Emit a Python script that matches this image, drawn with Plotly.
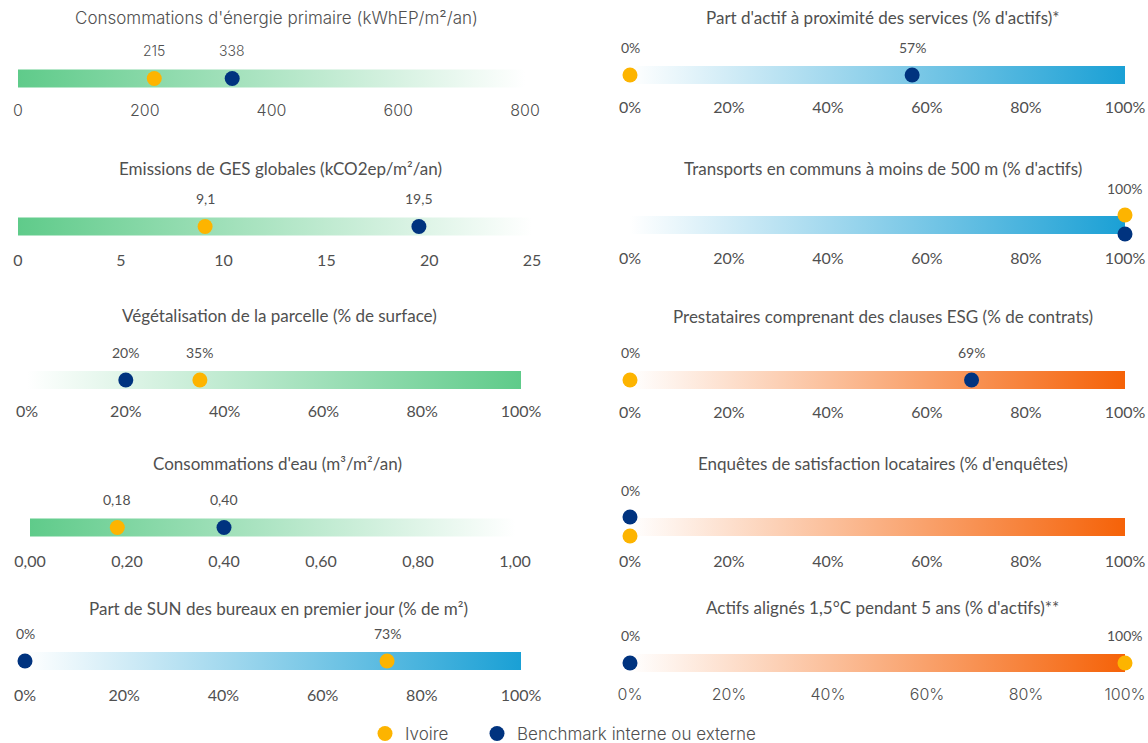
import plotly.graph_objects as go

W, H = 1148, 743

# ---------------- data ----------------
titles = [
    "Consommations d'énergie primaire (kWhEP/m²/an)",
    "Emissions de GES globales (kCO2ep/m²/an)",
    "Végétalisation de la parcelle (% de surface)",
    "Consommations d'eau (m³/m²/an)",
    "Part de SUN des bureaux en premier jour (% de m²)",
    "Part d'actif à proximité des services (% d'actifs)*",
    "Transports en communs à moins de 500 m (% d'actifs)",
    "Prestataires comprenant des clauses ESG (% de contrats)",
    "Enquêtes de satisfaction locataires (% d'enquêtes)",
    "Actifs alignés 1,5°C pendant 5 ans (% d'actifs)**",
]
series_names = ["Ivoire", "Benchmark interne ou externe"]
ivoire = [215, 9.1, 35, 0.18, 73, 0, 100, 0, 0, 100]
benchmark = [338, 19.5, 20, 0.40, 0, 57, 100, 69, 0, 0]
axis_max = [800, 25, 100, 1.0, 100, 100, 100, 100, 100, 100]

pct_vals = [0, 20, 40, 60, 80, 100]
pct_text = ["0%", "20%", "40%", "60%", "80%", "100%"]
tick_vals = [
    [0, 200, 400, 600, 800],
    [0, 5, 10, 15, 20, 25],
    pct_vals,
    [0, 0.2, 0.4, 0.6, 0.8, 1.0],
    pct_vals, pct_vals, pct_vals, pct_vals, pct_vals, pct_vals,
]
tick_text = [
    ["0", "200", "400", "600", "800"],
    ["0", "5", "10", "15", "20", "25"],
    pct_text,
    ["0,00", "0,20", "0,40", "0,60", "0,80", "1,00"],
    pct_text, pct_text, pct_text, pct_text, pct_text, pct_text,
]
value_format = ["int", "dec1", "pct", "dec2", "pct", "pct", "pct", "pct", "pct", "pct"]

# ---------------- styles ----------------
YELLOW = "#FDB400"
NAVY = "#00337F"
GREEN = "#5FCB8A"
BLUE = "#1AA0D5"
ORANGE = "#F56208"
WHITE = "rgba(255,255,255,1)"
TXT = "#505050"
F_CAL = "Lato"
F_GEO = "Inter"

grad = {
    "g_fade": [[0, GREEN], [1, WHITE]],
    "g_rise": [[0, WHITE], [1, GREEN]],
    "b_rise": [[0, WHITE], [1, BLUE]],
    "o_rise": [[0, WHITE], [1, ORANGE]],
}

# per panel: x0px, x1px, bar centre y px, tick label centre y px, title y px, gradient,
#            stacking (which series on top when equal), fonts
panels = [
    dict(x0=18, x1=525, yc=78.5, ty=110, tt=18, g="g_fade", tf=F_GEO, kf=F_GEO, lf=F_GEO),
    dict(x0=18, x1=532, yc=226.5, ty=260, tt=168, g="g_fade", tf=F_CAL, kf=F_CAL, lf=F_CAL),
    dict(x0=27, x1=521, yc=380, ty=411, tt=315, g="g_rise", tf=F_CAL, kf=F_CAL, lf=F_CAL),
    dict(x0=30, x1=515, yc=527.5, ty=561, tt=463, g="g_fade", tf=F_CAL, kf=F_CAL, lf=F_CAL),
    dict(x0=25, x1=521, yc=661, ty=695, tt=608, g="b_rise", tf=F_CAL, kf=F_CAL, lf=F_CAL),
    dict(x0=630, x1=1125, yc=75, ty=107, tt=18, g="b_rise", tf=F_CAL, kf=F_CAL, lf=F_CAL),
    dict(x0=630, x1=1125, yc=225, ty=258, tt=168, g="b_rise", tf=F_CAL, kf=F_CAL, lf=F_CAL, top=0),
    dict(x0=630, x1=1125, yc=380, ty=412, tt=316, g="o_rise", tf=F_CAL, kf=F_CAL, lf=F_CAL),
    dict(x0=630, x1=1125, yc=527, ty=561, tt=463, g="o_rise", tf=F_CAL, kf=F_CAL, lf=F_CAL, top=1),
    dict(x0=630, x1=1125, yc=663, ty=694, tt=607, g="o_rise", tf=F_CAL, kf=F_GEO, lf=F_CAL),
]
BAR_HALF = 9
TOP_OFF = 45
LABEL_GAP = 27
STACK_OFF = 10
LEGEND_DOT_X = [385, 497]
LEGEND_Y = 734


def fmt(v, kind):
    if kind == "int":
        return f"{v:.0f}"
    if kind == "dec1":
        return f"{v:.1f}".replace(".", ",")
    if kind == "dec2":
        return f"{v:.2f}".replace(".", ",")
    return f"{v:.0f}%"


fig = go.Figure()
annotations = []
legend_ids = ["legend", "legend2"]

for i, p in enumerate(panels):
    n = i + 1
    xr = "x" if n == 1 else f"x{n}"
    yr = "y" if n == 1 else f"y{n}"
    xa = "xaxis" if n == 1 else f"xaxis{n}"
    ya = "yaxis" if n == 1 else f"yaxis{n}"
    vmax = axis_max[i]
    bottom_off = p["ty"] - p["yc"] - 11

    # gradient bar
    fig.add_trace(go.Scatter(
        x=[0, vmax, vmax, 0, 0],
        y=[-BAR_HALF, -BAR_HALF, BAR_HALF, BAR_HALF, -BAR_HALF],
        fill="toself", mode="lines", line=dict(width=0),
        fillgradient=dict(type="horizontal", colorscale=grad[p["g"]]),
        hoverinfo="skip", showlegend=False, xaxis=xr, yaxis=yr,
    ))

    vals = [ivoire[i], benchmark[i]]
    colors = [YELLOW, NAVY]
    same = vals[0] == vals[1]
    yoffs = [0, 0]
    if same:
        top = p.get("top", 0)
        yoffs[top] = STACK_OFF
        yoffs[1 - top] = -STACK_OFF + 1

    for s in range(2):
        fig.add_trace(go.Scatter(
            x=[vals[s]], y=[yoffs[s]], mode="markers",
            marker=dict(size=15, color=colors[s]),
            name=series_names[s], showlegend=(i == 0), legend=legend_ids[s],
            cliponaxis=False, xaxis=xr, yaxis=yr, hoverinfo="skip",
        ))

    # value labels
    if same:
        annotations.append(dict(
            x=vals[0], y=max(yoffs) + LABEL_GAP, xref=xr, yref=yr,
            text=fmt(vals[0], value_format[i]), showarrow=False,
            font=dict(family=p["lf"], size=14, color=TXT,
                      weight=300 if p["lf"] == F_GEO else 400),
            xanchor="center", yanchor="middle"))
    else:
        for s in range(2):
            annotations.append(dict(
                x=vals[s], y=LABEL_GAP + 1, xref=xr, yref=yr,
                text=fmt(vals[s], value_format[i]), showarrow=False,
                font=dict(family=p["lf"], size=14, color=TXT,
                          weight=300 if p["lf"] == F_GEO else 400),
                xanchor="center", yanchor="middle"))

    # title
    annotations.append(dict(
        x=((p["x0"] + p["x1"]) / 2 + 5) / W, y=1 - p["tt"] / H,
        xref="paper", yref="paper", text=titles[i], showarrow=False,
        font=dict(family=p["tf"], size=17, color=TXT,
                  weight=300 if p["tf"] == F_GEO else 400),
        xanchor="center", yanchor="middle"))

    fig.update_layout(**{
        xa: dict(domain=[p["x0"] / W, p["x1"] / W], range=[0, vmax],
                 tickvals=tick_vals[i], ticktext=tick_text[i],
                 showgrid=False, zeroline=False, showline=False, ticks="",
                 tickfont=dict(family=p["kf"], size=16, color=TXT,
                               weight=300 if p["kf"] == F_GEO else 400),
                 anchor=yr, fixedrange=True, automargin=False),
        ya: dict(domain=[1 - (p["yc"] + bottom_off) / H, 1 - (p["yc"] - TOP_OFF) / H],
                 range=[-bottom_off, TOP_OFF], visible=False, anchor=xr,
                 fixedrange=True, automargin=False),
    })

legend_style = dict(orientation="h", xref="container", yref="container",
                    xanchor="left", yanchor="middle", y=1 - LEGEND_Y / H,
                    font=dict(family=F_GEO, size=17, color=TXT, weight=300),
                    itemwidth=30, bgcolor="rgba(0,0,0,0)")

fig.update_layout(
    width=W, height=H,
    margin=dict(l=0, r=0, t=0, b=0, autoexpand=False),
    paper_bgcolor="white", plot_bgcolor="rgba(0,0,0,0)",
    annotations=annotations,
    showlegend=True,
    legend=dict(x=(LEGEND_DOT_X[0] - 20) / W, **legend_style),
    legend2=dict(x=(LEGEND_DOT_X[1] - 20) / W, **legend_style),
)

fig.write_html("out.html")
